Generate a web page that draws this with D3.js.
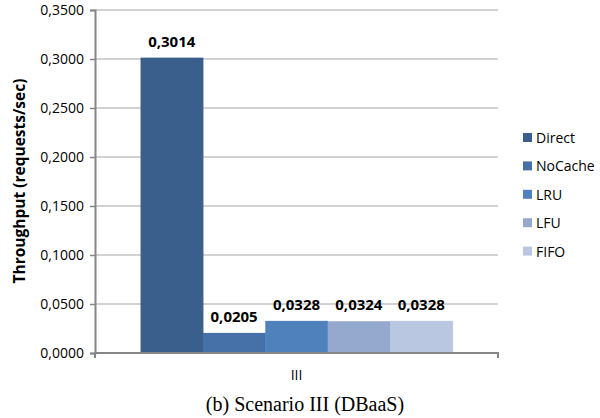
<!DOCTYPE html>
<html>
<head>
<meta charset="utf-8">
<script src="https://cdn.jsdelivr.net/npm/d3@7"></script>
<style>
  body { margin: 0; background: #fff; }
  text { font-family: "Open Sans", "Liberation Sans", sans-serif; }
</style>
</head>
<body>
<svg width="600" height="418"></svg>
<script>
// data
var categories = ["III"];
var series = ["Direct", "NoCache", "LRU", "LFU", "FIFO"];
var values = [0.3014, 0.0205, 0.0328, 0.0324, 0.0328];
var colors = ["#3b5f8c", "#4571a8", "#4f81bd", "#95a9cf", "#b9c7e1"];
var ticks = [0, 0.05, 0.1, 0.15, 0.2, 0.25, 0.3, 0.35];

var svg = d3.select("svg");
var margin = {top: 10, right: 102, bottom: 65, left: 95};
var width = 600 - margin.left - margin.right;
var height = 418 - margin.top - margin.bottom;

var fmt = function(d) { return d.toFixed(4).replace(".", ","); };

var y = d3.scaleLinear().domain([0, 0.35]).range([height, 0]);
var x0 = d3.scaleBand().domain(categories).range([0, width]).paddingInner(0).paddingOuter(0.146);
var x1 = d3.scaleBand().domain(series).range([0, x0.bandwidth()]);

var g = svg.append("g").attr("transform", "translate(" + margin.left + "," + margin.top + ")");

// gridlines
g.append("g")
  .selectAll("line")
  .data(ticks.slice(1))
  .enter().append("line")
  .attr("x1", 0).attr("x2", width)
  .attr("y1", function(d) { return y(d); })
  .attr("y2", function(d) { return y(d); })
  .attr("stroke", "#a6a6a6").attr("stroke-width", 1.2);

// bars
var grp = g.selectAll(".grp").data(categories).enter().append("g")
  .attr("transform", function(c) { return "translate(" + x0(c) + ",0)"; });

grp.selectAll("rect")
  .data(series.map(function(s, i) { return {s: s, v: values[i], c: colors[i]}; }))
  .enter().append("rect")
  .attr("x", function(d) { return x1(d.s); })
  .attr("width", x1.bandwidth() + 0.5)
  .attr("y", function(d) { return y(d.v); })
  .attr("height", function(d) { return height - y(d.v); })
  .attr("fill", function(d) { return d.c; });

grp.selectAll(".lbl")
  .data(series.map(function(s, i) { return {s: s, v: values[i]}; }))
  .enter().append("text")
  .attr("x", function(d) { return x1(d.s) + x1.bandwidth() / 2; })
  .attr("y", function(d) { return y(d.v) - 11; })
  .attr("text-anchor", "middle")
  .style("font-size", "15px").style("font-weight", "bold")
  .text(function(d) { return fmt(d.v); });

// y axis
var yAxis = g.append("g")
  .call(d3.axisLeft(y).tickValues(ticks).tickFormat(fmt).tickSize(5).tickPadding(6));
yAxis.select(".domain").attr("stroke", "#868686").attr("stroke-width", 2);
yAxis.selectAll(".tick line").attr("stroke", "#868686").attr("stroke-width", 1.5);
yAxis.selectAll("text").style("font-size", "14px").attr("fill", "#000");

// x axis
var xAxis = g.append("g").attr("transform", "translate(0," + height + ")")
  .call(d3.axisBottom(x0).tickSize(0).tickPadding(17));
xAxis.select(".domain").attr("stroke", "#868686").attr("stroke-width", 2)
  .attr("d", "M0,5V0H" + width + "V5");
xAxis.selectAll("text").style("font-size", "14px").attr("fill", "#000");

// y title
svg.append("text")
  .attr("transform", "translate(25,181) rotate(-90)")
  .attr("text-anchor", "middle")
  .style("font-size", "15.5px").style("font-weight", "bold")
  .text("Throughput (requests/sec)");

// legend
var legend = svg.append("g").attr("transform", "translate(523,133)");
series.forEach(function(s, i) {
  var row = legend.append("g").attr("transform", "translate(0," + (i * 28.4) + ")");
  row.append("rect").attr("width", 9).attr("height", 9).attr("fill", colors[i]);
  row.append("text").attr("x", 13).attr("y", 10).style("font-size", "14px").text(s);
});

// caption
svg.append("text")
  .attr("x", 305).attr("y", 411)
  .attr("text-anchor", "middle")
  .style("font-family", "'Liberation Serif', 'Times New Roman', serif")
  .style("font-size", "20px")
  .text("(b) Scenario III (DBaaS)");
</script>
</body>
</html>
